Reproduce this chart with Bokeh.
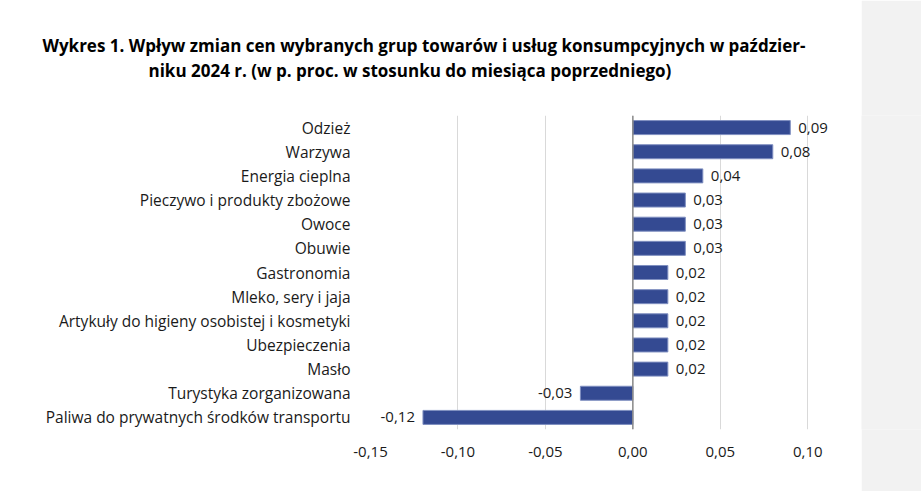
from bokeh.plotting import figure
from bokeh.models import (ColumnDataSource, FactorRange, FixedTicker, CustomJSTickFormatter,
                          Span, Title)
from bokeh.layouts import row
from bokeh.embed import file_html
from bokeh.resources import INLINE
from bokeh.core.properties import value

categories = [
    "Odzież",
    "Warzywa",
    "Energia cieplna",
    "Pieczywo i produkty zbożowe",
    "Owoce",
    "Obuwie",
    "Gastronomia",
    "Mleko, sery i jaja",
    "Artykuły do higieny osobistej i kosmetyki",
    "Ubezpieczenia",
    "Masło",
    "Turystyka zorganizowana",
    "Paliwa do prywatnych środków transportu",
]
values = [0.09, 0.08, 0.04, 0.03, 0.03, 0.03, 0.02, 0.02, 0.02, 0.02, 0.02, -0.03, -0.12]
x_ticks = [-0.15, -0.10, -0.05, 0.0, 0.05, 0.10]

title_line1 = "Wykres 1. Wpływ zmian cen wybranych grup towarów i usług konsumpcyjnych w paździer-"
title_line2 = "niku 2024 r. (w p. proc. w stosunku do miesiąca poprzedniego)"

FONT = "Open Sans"
BAR = "#344a92"

labels = [("%.2f" % v).replace(".", ",") for v in values]
src = ColumnDataSource(dict(cat=categories, val=values, zero=[0] * len(values)))
src_pos = ColumnDataSource(dict(
    cat=[c for c, v in zip(categories, values) if v >= 0],
    val=[v for v in values if v >= 0],
    lab=[l for l, v in zip(labels, values) if v >= 0]))
src_neg = ColumnDataSource(dict(
    cat=[c for c, v in zip(categories, values) if v < 0],
    val=[v for v in values if v < 0],
    lab=[l for l, v in zip(labels, values) if v < 0]))

# frame: x from 370 (-0.15) ; 0.10 at 807 ; extended to the right so labels are not clipped
p = figure(width=861, height=491, output_backend="svg", toolbar_location=None,
           y_range=FactorRange(*categories[::-1], range_padding=0),
           x_range=(-0.15, 0.125),
           min_border_left=370, min_border_right=10, min_border_top=115,
           min_border_bottom=62)
p.title.visible = False
p.outline_line_color = None
p.background_fill_color = "white"
p.border_fill_color = "white"

p.hbar(y="cat", left="zero", right="val", height=0.58, source=src,
       fill_color=BAR, line_color="#7f8fc0", line_width=1)

p.text(x="val", y="cat", text="lab", source=src_pos, x_offset=8,
       text_align="left", text_baseline="middle", text_font=value(FONT),
       text_font_size="15px", text_color="#1a1a1a")
p.text(x="val", y="cat", text="lab", source=src_neg, x_offset=-8,
       text_align="right", text_baseline="middle", text_font=value(FONT),
       text_font_size="15px", text_color="#1a1a1a")

p.add_layout(Span(location=0, dimension="height", line_color="#8a8a8a", line_width=1.5))

p.xaxis.ticker = FixedTicker(ticks=x_ticks)
p.xaxis.formatter = CustomJSTickFormatter(code="return tick.toFixed(2).replace('.', ',');")
p.xaxis.axis_line_color = None
p.xaxis.major_tick_line_color = None
p.xaxis.minor_tick_line_color = None
p.xaxis.major_label_standoff = 11
p.xaxis.major_label_text_font = FONT
p.xaxis.major_label_text_font_size = "15px"
p.xaxis.major_label_text_color = "#1a1a1a"

p.yaxis.axis_line_color = None
p.yaxis.major_tick_line_color = None
p.yaxis.minor_tick_line_color = None
p.yaxis.major_tick_out = 0
p.yaxis.major_label_standoff = 20
p.yaxis.major_label_text_font = FONT
p.yaxis.major_label_text_font_size = "15.5px"
p.yaxis.major_label_text_color = "#1a1a1a"

p.xgrid.grid_line_color = "#d9d9d9"
p.xgrid.ticker = FixedTicker(ticks=x_ticks)
p.ygrid.grid_line_color = None

# spacer between the frame and the title lines
p.add_layout(Title(text=" ", text_font_size="1px", standoff=31), "above")
p.add_layout(Title(text=title_line2, align="left", offset=148 - 370, text_font=FONT,
                   text_font_style="bold", text_font_size="17px", text_color="#000000",
                   standoff=0), "above")
p.add_layout(Title(text=title_line1, align="left", offset=42 - 370, text_font=FONT,
                   text_font_style="bold", text_font_size="17px", text_color="#000000",
                   standoff=0), "above")

side = figure(width=60, height=491, output_backend="svg", toolbar_location=None,
              min_border=0, x_axis_type=None, y_axis_type=None)
side.outline_line_color = None
side.background_fill_color = "#f2f2f2"
side.border_fill_color = "#f2f2f2"
side.xgrid.visible = False
side.ygrid.visible = False
side.title.visible = False
side.scatter([0], [0], size=0, alpha=0)

layout = row(p, side, spacing=0)
open("out.html", "w").write(file_html(layout, INLINE))
